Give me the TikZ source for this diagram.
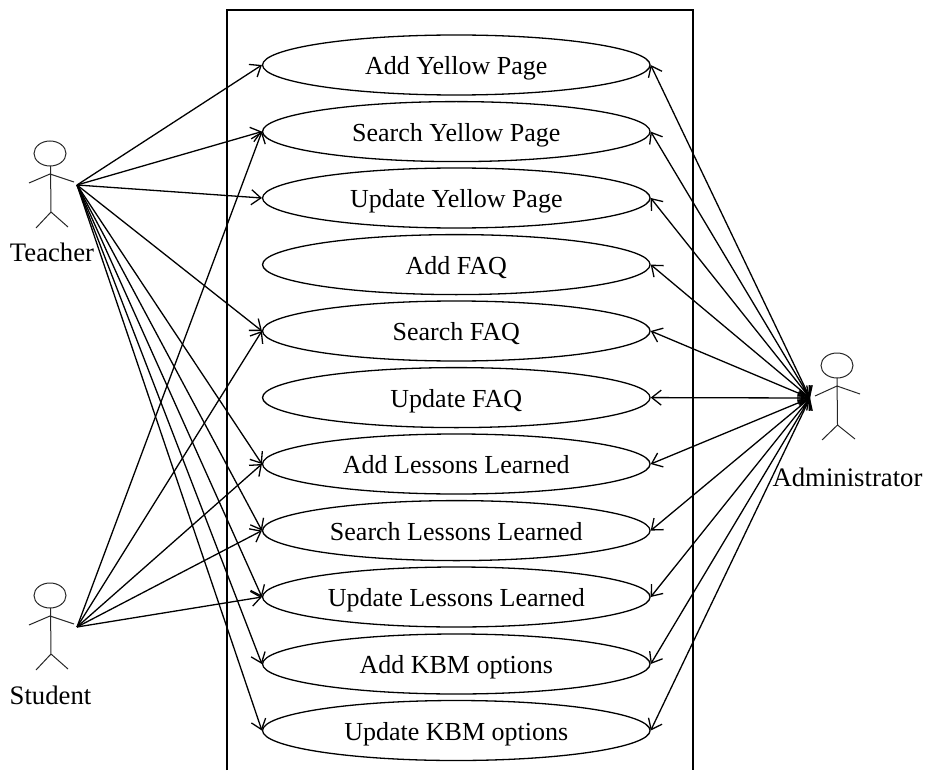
\documentclass[tikz,border=0pt]{standalone}
\usepackage{fontspec}
\setmainfont{Liberation Serif}
\usetikzlibrary{shapes.geometric,arrows.meta}
\tikzset{
  usecase/.style={draw,ellipse,inner sep=0pt,minimum width=387.5pt,minimum height=60pt,text height=19.5pt,text depth=0pt,font=\fontsize{26}{28}\selectfont,line width=1.3pt},
  actorlabel/.style={inner sep=0pt,anchor=base,font=\fontsize{26.7}{28}\selectfont},
  conn/.style={line width=1.3pt,-{Straight Barb[length=9.5pt,width=15pt]}},
  bidir/.style={line width=1.3pt,{Straight Barb[length=9.5pt,width=15pt]}-{Straight Barb[length=9.5pt,width=15pt]}},
  stick/.style={line width=1pt,draw=black!85},
  frame/.style={line width=2pt}
}
\begin{document}
\begin{tikzpicture}[x=1pt,y=-1pt]
\useasboundingbox (0,0) rectangle (925,770);
% system boundary (open at the bottom)
\coordinate (fbl) at (227,770);
\coordinate (ftl) at (227,10);
\coordinate (ftr) at (693,10);
\coordinate (fbr) at (693,770);
\draw[frame] (fbl) -- (ftl) -- (ftr) -- (fbr);
% use cases
\node[usecase] (u1) at (456.3,65) {Add Yellow Page};
\node[usecase] (u2) at (456.3,131.6) {Search Yellow Page};
\node[usecase] (u3) at (456.3,198) {Update Yellow Page};
\node[usecase] (u4) at (456.3,264.6) {Add FAQ};
\node[usecase] (u5) at (456.3,331) {Search FAQ};
\node[usecase] (u6) at (456.3,397.6) {Update FAQ};
\node[usecase] (u7) at (456.3,464) {Add Lessons Learned};
\node[usecase] (u8) at (456.3,530.6) {Search Lessons Learned};
\node[usecase] (u9) at (456.3,597) {Update Lessons Learned};
\node[usecase] (u10) at (456.3,664) {Add KBM options};
\node[usecase] (u11) at (456.3,730.5) {Update KBM options};
% actors
\draw[stick] (50,153.5) ellipse (16pt and 12.5pt);
\draw[stick] (50.5,166) -- (51,212) (29,183) -- (50,174) -- (74,182) (36,228) -- (51,212) -- (68,227);
\draw[stick] (50,595.5) ellipse (16pt and 12.5pt);
\draw[stick] (50.5,608) -- (51,654) (29,625) -- (50,616) -- (74,624) (36,670) -- (51,654) -- (68,669);
\draw[stick] (837,365.5) ellipse (16pt and 12.5pt);
\draw[stick] (837,378) -- (837.5,425) (815,396) -- (837,386) -- (860,394) (822,440) -- (837.5,425) -- (855,439);
\node[actorlabel] (teacher) at (52,261) {Teacher};
\node[actorlabel] (student) at (50.5,704) {Student};
\node[actorlabel] (admin) at (847.5,486.5) {Administrator};
\coordinate (T) at (77,185);
\coordinate (S) at (77,627);
\coordinate (A) at (810,398);
% connectors
\foreach \u in {1,2,3,5,7,8,9,10,11} \draw[conn] (T) -- (u\u.west);
\foreach \u in {2,5,7,8,9} \draw[conn] (S) -- (u\u.west);
\foreach \u in {1,2,3,4,5,6,7,8,9,10,11} \draw[bidir] (A) -- (u\u.east);
\end{tikzpicture}
\end{document}
